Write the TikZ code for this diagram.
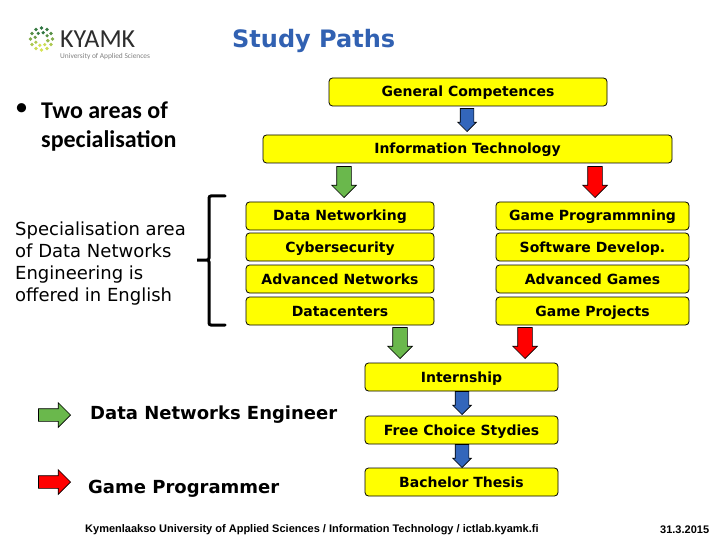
\documentclass[tikz,border=0pt]{standalone}
\usepackage{fontspec}
\setmainfont{DejaVu Sans}
\newfontfamily\bulletfont{Carlito}
\newfontfamily\footerfont{Liberation Sans}
\newfontfamily\logofont{Carlito}
\usetikzlibrary{shapes.arrows}
\definecolor{cyellow}{RGB}{255,255,0}
\definecolor{cblue}{RGB}{51,102,187}
\definecolor{cgreen}{RGB}{106,184,76}
\definecolor{cred}{RGB}{255,0,0}
\definecolor{ctitle}{RGB}{49,97,178}
\definecolor{clogotop}{RGB}{45,115,65}
\definecolor{clogobot}{RGB}{215,228,85}
\tikzset{
  studybox/.style={draw=black,line width=0.8pt,fill=cyellow,rounded corners=3.5pt,inner sep=0pt,
    minimum height=28pt,text height=12pt,text depth=2pt,font=\fontsize{14}{16}\bfseries},
  blockbase/.style={single arrow,draw=black,line width=0.7pt,single arrow head indent=0pt,anchor=tip},
  bluedown/.style={blockbase,fill=cblue,inner sep=6.5pt,shape border rotate=270,minimum height=23pt,minimum width=18pt,single arrow head extend=2.5pt},
  greendown/.style={blockbase,fill=cgreen,inner sep=7pt,shape border rotate=270,minimum height=31pt,minimum width=24pt,single arrow head extend=5pt},
  reddown/.style={blockbase,fill=cred,inner sep=7pt,shape border rotate=270,minimum height=31pt,minimum width=24pt,single arrow head extend=5pt},
  keyarrow/.style={blockbase,inner sep=6pt,minimum height=32pt,minimum width=24pt,single arrow head extend=6pt},
  freetext/.style={anchor=west,inner sep=0pt},
}

\begin{document}
\begin{tikzpicture}[x=1pt,y=-1pt]
    \useasboundingbox (0,0) rectangle (720,540);
    % logo
    \foreach \a in {0,30,...,330} {
      \pgfmathsetmacro{\m}{50+50*sin(\a)}
      \fill[clogobot!\m!clogotop] ({41.5+11*cos(\a)},{39+11*sin(\a)}) circle (1.8pt);
    }
    \foreach \a in {15,60,...,375} {
      \pgfmathsetmacro{\m}{50+50*sin(\a)}
      \fill[clogobot!\m!clogotop] ({41.5+6.5*cos(\a)},{39+6.5*sin(\a)}) circle (1.8pt);
    }
    \node[inner sep=0pt,anchor=base west,text height=17pt,text depth=0pt,gray!35!black,font=\logofont\fontsize{26}{26}\selectfont] (logoname) at (60,47.5) {KYAMK};
    \node[inner sep=0pt,anchor=base west,text height=5pt,text depth=0pt,gray,font=\logofont\fontsize{7.4}{8}\selectfont] (logosub) at (60,58.5) {University of Applied Sciences};
    % title and left texts
    \node[freetext,ctitle,font=\fontsize{24}{28}\bfseries] (title) at (232,41) {Study Paths};
    \node[freetext,font=\bulletfont\fontsize{26}{27}\selectfont] (bullet) at (15,110) {•};
    \node[freetext,align=left,font=\bulletfont\bfseries\fontsize{24}{29}\selectfont] (areas) at (41,127) {Two areas of\\specialisation};
    \node[freetext,align=left,font=\fontsize{18}{22}\selectfont] (engl) at (15,264) {Specialisation area\\of Data Networks\\Engineering is\\offered in English};
    \draw[line width=3pt,line cap=round,rounded corners=2pt] (225,196) -- (209,196) -- (209,260) -- (196,260) -- (209,260) -- (209,325) -- (225,325);
    % yellow boxes
    \node[studybox,minimum width=278pt] (general) at (468,92) {General Competences};
    \node[studybox,minimum width=409pt] (infotech) at (467.5,149) {Information Technology};
    \foreach \nm/\y/\txt in {datanet/216/Data Networking,cyber/247/Cybersecurity,advnet/279/Advanced Networks,datacen/311/Datacenters}
      \node[studybox,minimum width=188pt] (\nm) at (340,\y) {\txt};
    \foreach \nm/\y/\txt in {gameprog/216/Game Programmning,softdev/247/Software Develop.,advgame/279/Advanced Games,gameproj/311/Game Projects}
      \node[studybox,minimum width=193pt] (\nm) at (592.5,\y) {\txt};
    \node[studybox,minimum width=193pt] (intern) at (461.5,377) {Internship};
    \node[studybox,minimum width=193pt] (freechoice) at (461.5,430) {Free Choice Stydies};
    \node[studybox,minimum width=193pt] (thesis) at (461.5,482) {Bachelor Thesis};
    % block arrows
    \node[bluedown] (genarrow) at (467,132) {};
    \node[greendown] (netarrow) at (344,198) {};
    \node[reddown] (gamearrow) at (595,198) {};
    \node[greendown] (netout) at (400,359) {};
    \node[reddown] (gameout) at (525,359) {};
    \node[bluedown] (internarrow) at (462,415) {};
    \node[bluedown] (freearrow) at (462,468) {};
    % key
    \node[keyarrow,fill=cgreen] (netkey) at (71,415) {};
    \node[keyarrow,fill=cred] (gamekey) at (71,482) {};
    \node[freetext,font=\fontsize{18}{20}\bfseries,text height=12pt] (netlabel) at (90,415) {Data Networks Engineer};
    \node[freetext,font=\fontsize{18}{20}\bfseries,text height=12pt] (gamelabel) at (88,489) {Game Programmer};
    % footer
    \node[freetext,font=\footerfont\bfseries\fontsize{11}{12}\selectfont] (footer) at (85,530) {Kymenlaakso University of Applied Sciences / Information Technology / ictlab.kyamk.fi};
    \node[freetext,font=\footerfont\bfseries\fontsize{11}{12}\selectfont] (date) at (660,530) {31.3.2015};
  \end{tikzpicture}
\end{document}
